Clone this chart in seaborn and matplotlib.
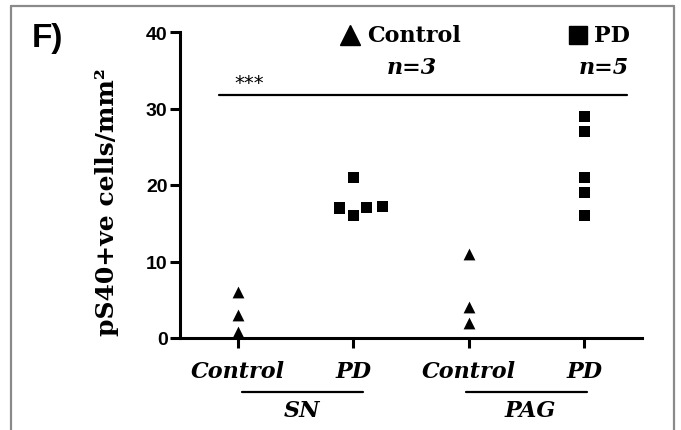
import matplotlib
matplotlib.use("Agg")
import matplotlib.pyplot as plt
import seaborn as sns
import pandas as pd
from matplotlib.lines import Line2D

# ---- data ----
categories = ["SN Control", "SN PD", "PAG Control", "PAG PD"]
tick_labels = ["Control", "PD", "Control", "PD"]
sn_control = [6, 3, 0.8]
sn_pd = [21, 17, 16, 17.1, 17.2]
pag_control = [11, 4, 2]
pag_pd = [29, 27, 21, 19, 16]
y_ticks = [0, 10, 20, 30, 40]

ctrl = pd.DataFrame({"cond": ["SN Control"] * len(sn_control) + ["PAG Control"] * len(pag_control),
                     "value": sn_control + pag_control})
pd_df = pd.DataFrame({"cond": ["SN PD"] * len(sn_pd) + ["PAG PD"] * len(pag_pd),
                      "value": sn_pd + pag_pd})

sns.set_style("ticks")
plt.rcParams["font.family"] = ["DejaVu Sans"]
for k in ["text.color", "axes.labelcolor", "xtick.color", "ytick.color", "axes.edgecolor"]:
    plt.rcParams[k] = "black"

W, H = 681, 431
fig = plt.figure(figsize=(W / 100, H / 100), dpi=100)
ax = fig.add_axes([180 / W, 1 - 339 / H, (642 - 180) / W, (339 - 33) / H])

sns.swarmplot(data=ctrl, x="cond", y="value", order=categories, marker="^",
              color="black", size=8.5, linewidth=0, ax=ax)
sns.swarmplot(data=pd_df, x="cond", y="value", order=categories, marker="s",
              color="black", size=8, linewidth=3, edgecolor="none", ax=ax)

ax.set_xlim(-0.5, 3.5)
ax.set_ylim(0, 40)
ax.set_yticks(y_ticks)
ax.set_yticklabels([str(t) for t in y_ticks], fontsize=14, fontweight="bold",
                   family="Liberation Sans")
ax.set_xticks(range(len(categories)))
ax.set_xticklabels(tick_labels, fontsize=16, fontweight="bold", style="italic",
                   family="DejaVu Serif")
ax.set_xlabel("")
ax.set_ylabel("")
for s in ["top", "right"]:
    ax.spines[s].set_visible(False)
for s in ["left", "bottom"]:
    ax.spines[s].set_linewidth(2.2)
ax.tick_params(axis="both", direction="out", length=7, width=2.2)
ax.tick_params(axis="y", pad=2)
ax.tick_params(axis="x", pad=9)


def fx(x):
    return x / W


def fy(y):
    return 1 - y / H


serif = "DejaVu Serif"
# y label
fig.text(fx(107), fy(202), "pS40+ve cells/mm²", rotation=90, ha="center", va="center",
         fontsize=18, fontweight="bold", family=serif)
# panel letter
fig.text(fx(32), fy(38), "F)", ha="left", va="center", fontsize=24, fontweight="bold",
         family="Liberation Sans")

# legend-like annotations
fig.add_artist(Line2D([fx(350)], [fy(36)], marker="^", markersize=15, color="black",
                      linestyle="none", transform=fig.transFigure))
fig.text(fx(367), fy(36), "Control", ha="left", va="center", fontsize=16,
         fontweight="bold", family=serif)
fig.text(fx(412), fy(68), "n=3", ha="center", va="center", fontsize=16,
         fontweight="bold", style="italic", family=serif)
fig.add_artist(Line2D([fx(578)], [fy(36)], marker="s", markersize=13, color="black",
                      linestyle="none", transform=fig.transFigure))
fig.text(fx(594), fy(36), "PD", ha="left", va="center", fontsize=16,
         fontweight="bold", family=serif)
fig.text(fx(604), fy(68), "n=5", ha="center", va="center", fontsize=16,
         fontweight="bold", style="italic", family=serif)

# significance bar
fig.add_artist(Line2D([fx(219), fx(627)], [fy(96), fy(96)], color="black", lw=1.6,
                      transform=fig.transFigure))
fig.text(fx(249), fy(84), "***", ha="center", va="center", fontsize=14,
         family="DejaVu Sans")

# group brackets
for (x0, x1, label, xc) in [(242, 363, "SN", 302), (466, 587, "PAG", 530)]:
    fig.add_artist(Line2D([fx(x0), fx(x1)], [fy(393), fy(393)], color="black", lw=1.6,
                          transform=fig.transFigure))
    fig.text(fx(xc), fy(411), label, ha="center", va="center", fontsize=16,
             fontweight="bold", style="italic", family=serif)

# grey frame
frame_kw = dict(color="#8a8a8a", lw=1.6, transform=fig.transFigure)
fig.add_artist(Line2D([fx(11), fx(11)], [fy(7), 0], **frame_kw))
fig.add_artist(Line2D([fx(11), fx(674)], [fy(7), fy(7)], **frame_kw))
fig.add_artist(Line2D([fx(674), fx(674)], [fy(7), 0], **frame_kw))

fig.savefig("out.png", dpi=100)
